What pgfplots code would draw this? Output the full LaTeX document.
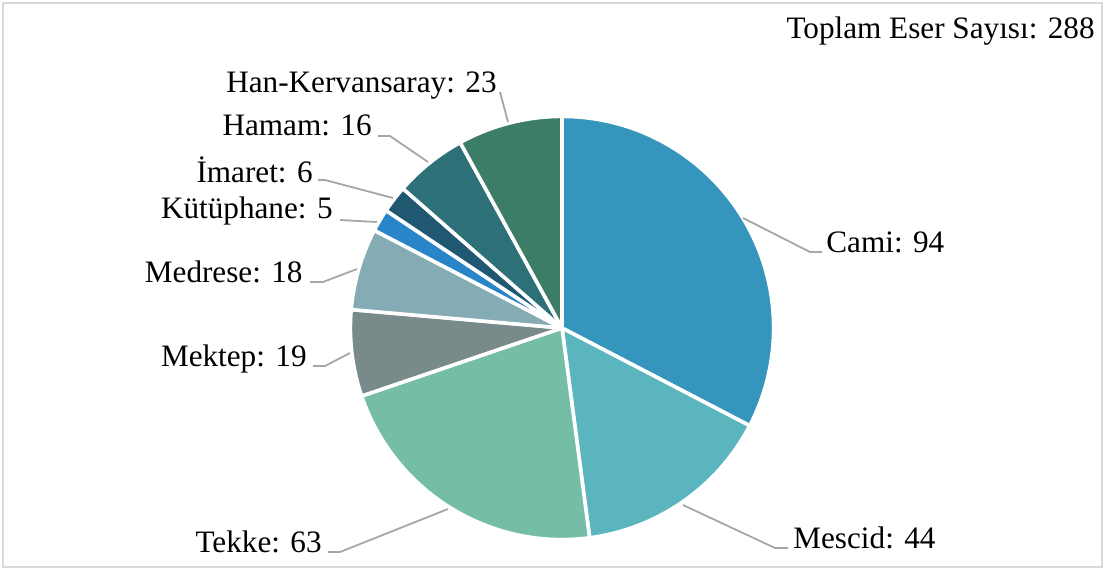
\documentclass[border=0pt]{standalone}
\usepackage{pgfplots}
\usepackage{pgfplotstable}
\pgfplotsset{compat=1.18}
\usepackage{fontspec}
\setmainfont{Liberation Serif}
\definecolor{cCami}{HTML}{3595BC}
\definecolor{cMescid}{HTML}{5AB5BF}
\definecolor{cTekke}{HTML}{75BDA7}
\definecolor{cMektep}{HTML}{798A8A}
\definecolor{cMedrese}{HTML}{85ABB5}
\definecolor{cKutup}{HTML}{2A84C8}
\definecolor{cImaret}{HTML}{1F5870}
\definecolor{cHamam}{HTML}{2D7078}
\definecolor{cHan}{HTML}{3B7D67}
\definecolor{leader}{HTML}{A6A6A6}
\definecolor{frame}{HTML}{D9D9D9}
\pgfplotstableread[col sep=comma]{
name,value,color
Cami,94,cCami
Mescid,44,cMescid
Tekke,63,cTekke
Mektep,19,cMektep
Medrese,18,cMedrese
Kütüphane,5,cKutup
İmaret,6,cImaret
Hamam,16,cHamam
Han-Kervansaray,23,cHan
}\piedata
\begin{document}
\begin{tikzpicture}
\path[use as bounding box] (0,0) rectangle (552.5pt,285pt);
\begin{axis}[
  at={(0,0)}, anchor=south west,
  scale only axis, width=552.5pt, height=285pt,
  xmin=0, xmax=1105, ymin=0, ymax=570,
  hide axis, clip=false,
]
\pgfplotstablegetrowsof{\piedata}\let\nrows\pgfplotsretval
\pgfmathtruncatemacro\lastrow{\nrows-1}
\def\total{0}
\pgfplotsforeachungrouped \i in {0,...,\lastrow}{%
  \pgfplotstablegetelem{\i}{value}\of\piedata
  \pgfmathsetmacro\total{\total+\pgfplotsretval}%
  \global\let\total\total
}
\def\angA{90}
\pgfplotsforeachungrouped \i in {0,...,\lastrow}{%
  \pgfplotstablegetelem{\i}{value}\of\piedata \let\val\pgfplotsretval
  \pgfplotstablegetelem{\i}{color}\of\piedata \let\col\pgfplotsretval
  \pgfmathsetmacro\angB{\angA-\val/\total*360}%
  \edef\temp{\noexpand\fill[\col, draw=white, line width=1.8pt, line join=round]
    (axis cs:562,242) -- ++(\angA:105.8pt) arc[start angle=\angA, end angle=\angB, radius=105.8pt] -- cycle;}%
  \temp
  \global\let\angA\angB
}
% frame
\draw[frame, line width=0.8pt] (axis cs:3,3) rectangle (axis cs:1102,567);
% leader lines
\begin{scope}[leader, line width=0.9pt]
\draw (axis cs:743,352) -- (axis cs:810,318) -- (axis cs:822,318);
\draw (axis cs:683,65) -- (axis cs:775,22) -- (axis cs:788,22);
\draw (axis cs:448,61) -- (axis cs:340,18) -- (axis cs:328,18);
\draw (axis cs:350,217) -- (axis cs:325,204) -- (axis cs:313,204);
\draw (axis cs:357,301) -- (axis cs:323,288) -- (axis cs:310,288);
\draw (axis cs:377,348) -- (axis cs:340,350);
\draw (axis cs:393,372) -- (axis cs:325,390) -- (axis cs:318,390);
\draw (axis cs:428,408) -- (axis cs:390,434) -- (axis cs:378,434);
\draw (axis cs:508,448) -- (axis cs:500,478);
\end{scope}
% labels
\begin{scope}[every node/.style={inner sep=0pt, font=\fontsize{15.6}{18}\selectfont}]
\node[anchor=base east] at (axis cs:1095,532) {Toplam Eser Sayısı: 288};
\node[anchor=base west] at (axis cs:826,318) {Cami: 94};
\node[anchor=base west] at (axis cs:793,22) {Mescid: 44};
\node[anchor=base east] at (axis cs:322,18) {Tekke: 63};
\node[anchor=base east] at (axis cs:307,204) {Mektep: 19};
\node[anchor=base east] at (axis cs:303,288) {Medrese: 18};
\node[anchor=base east] at (axis cs:333,352) {Kütüphane: 5};
\node[anchor=base east] at (axis cs:313,388) {İmaret: 6};
\node[anchor=base east] at (axis cs:372,435) {Hamam: 16};
\node[anchor=base east] at (axis cs:497,478) {Han-Kervansaray: 23};
\end{scope}
\end{axis}
\end{tikzpicture}
\end{document}
